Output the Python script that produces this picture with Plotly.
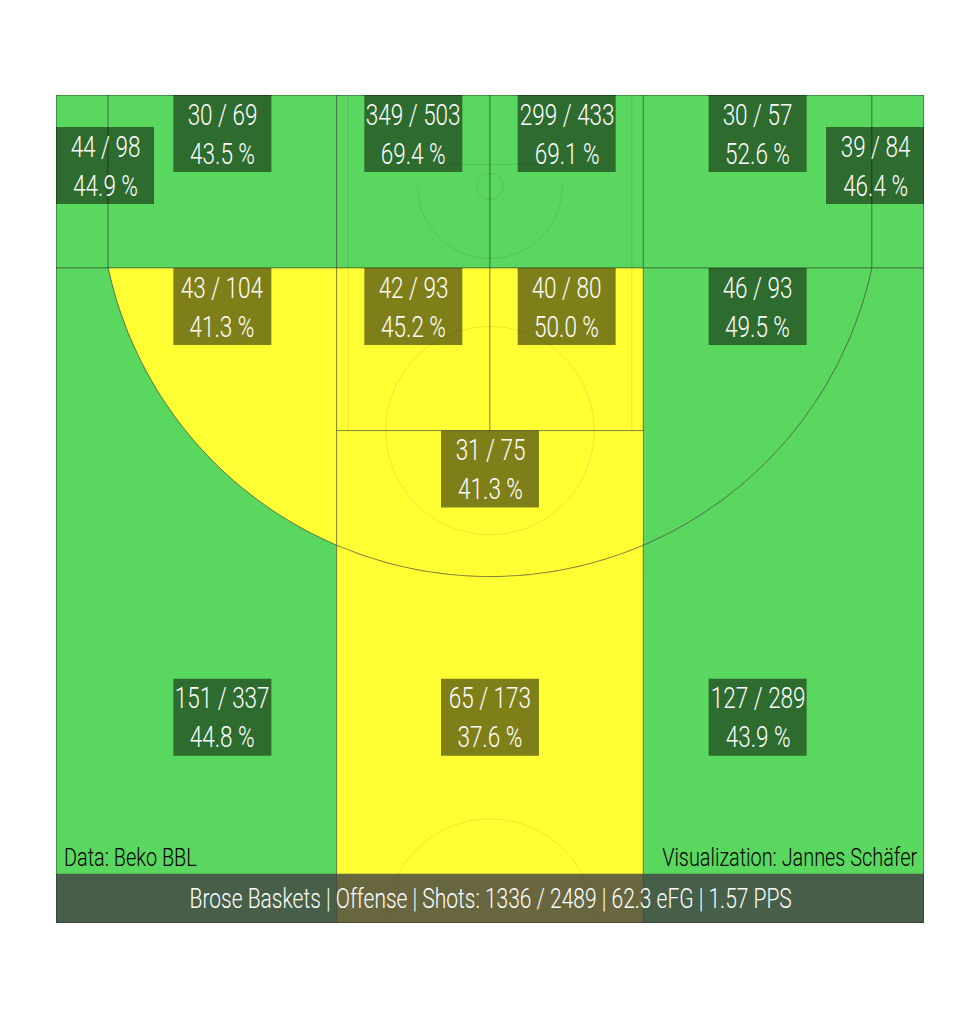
import numpy as np
import plotly.graph_objects as go

# shot zones, ordered baseline -> half court, left -> right
ZONES = [
    "Left Corner 3", "Left Baseline 2", "Paint Left", "Paint Right", "Right Baseline 2", "Right Corner 3",
    "Left Wing 2", "Lane Left", "Lane Right", "Right Wing 2", "Top Key 2",
    "Left Wing 3", "Top 3", "Right Wing 3",
]
MADE = [44, 30, 349, 299, 30, 39, 43, 42, 40, 46, 31, 151, 65, 127]
ATTEMPTS = [98, 69, 503, 433, 57, 84, 104, 93, 80, 93, 75, 337, 173, 289]
# above / below league average
RATING = [
    "above", "above", "above", "above", "above", "above",
    "below", "below", "below", "above", "below",
    "above", "below", "above",
]

TEAM = "Brose Baskets"
SIDE = "Offense"
TOTAL_MADE = 1336
TOTAL_ATTEMPTS = 2489
EFG = 62.3
PPS = 1.57

SOURCE = "Data: Beko BBL"
CREDIT = "Visualization: Jannes Schäfer"

RATING_COLORS = {"above": "#5AD75E", "below": "#FFFF33"}
FONT = "Roboto, sans-serif"
ZONE_LINE = "rgba(40,40,40,0.55)"
MARK_LINE = "rgba(0,0,0,0.09)"
# no condensed face is installed, so the text is squeezed horizontally
CONDENSE = 0.75
BOX_W = 98
BOX_H = 77

# court geometry in metres (FIBA), y measured from the baseline
HALF_W = 7.5
COURT_L = 14.31
BASKET_Y = 1.575
THREE_R = 6.75
CORNER_X = 6.6
CORNER_Y = BASKET_Y + np.sqrt(THREE_R**2 - CORNER_X**2)
LANE_X = 2.65
PAINT_X = 2.45
FT_Y = 5.8
BAR_TOP = 13.46


def arc_pts(x0, x1, n=80):
    xs = np.linspace(x0, x1, n)
    return list(xs), list(BASKET_Y + np.sqrt(THREE_R**2 - xs**2))


def rect(x0, x1, y0, y1):
    return [x0, x1, x1, x0], [y0, y0, y1, y1]


def wing2(sign):
    ax, ay = arc_pts(sign * LANE_X, sign * CORNER_X)
    return [sign * CORNER_X, sign * LANE_X] + ax, [CORNER_Y, CORNER_Y] + ay


def wing3(sign):
    ax, ay = arc_pts(sign * CORNER_X, sign * LANE_X)
    xs = [sign * HALF_W, sign * CORNER_X] + ax + [sign * LANE_X, sign * HALF_W]
    ys = [CORNER_Y, CORNER_Y] + ay + [COURT_L, COURT_L]
    return xs, ys


def top_key():
    ax, ay = arc_pts(LANE_X, -LANE_X)
    return [-LANE_X, LANE_X] + ax, [FT_Y, FT_Y] + ay


def top3():
    ax, ay = arc_pts(-LANE_X, LANE_X)
    return ax + [LANE_X, -LANE_X], ay + [COURT_L, COURT_L]


SHAPES = [
    rect(-HALF_W, -CORNER_X, 0, CORNER_Y),
    rect(-CORNER_X, -LANE_X, 0, CORNER_Y),
    rect(-LANE_X, 0, 0, CORNER_Y),
    rect(0, LANE_X, 0, CORNER_Y),
    rect(LANE_X, CORNER_X, 0, CORNER_Y),
    rect(CORNER_X, HALF_W, 0, CORNER_Y),
    wing2(-1),
    rect(-LANE_X, 0, CORNER_Y, FT_Y),
    rect(0, LANE_X, CORNER_Y, FT_Y),
    wing2(1),
    top_key(),
    wing3(-1),
    top3(),
    wing3(1),
]

# label box anchor: x, top y, side the box hangs from (-1 left edge, 0 centre, 1 right edge)
LABEL_POS = [
    (-HALF_W, 0.553, -1), (-4.625, 0, 0), (-1.325, 0, 0),
    (1.325, 0, 0), (4.625, 0, 0), (HALF_W, 0.553, 1),
    (-4.625, CORNER_Y, 0), (-1.325, CORNER_Y, 0),
    (1.325, CORNER_Y, 0), (4.625, CORNER_Y, 0), (0, FT_Y, 0),
    (-4.625, 10.09, 0), (0, 10.09, 0), (4.625, 10.09, 0),
]


def circle(cx, cy, r, a0=0, a1=2 * np.pi, n=120):
    t = np.linspace(a0, a1, n)
    return cx + r * np.cos(t), cy + r * np.sin(t)


fig = go.Figure()

for name, shape, rating in zip(ZONES, SHAPES, RATING):
    xs, ys = shape
    fig.add_trace(
        go.Scatter(
            x=xs + [xs[0]],
            y=ys + [ys[0]],
            mode="lines",
            fill="toself",
            fillcolor=RATING_COLORS[rating],
            line=dict(color=ZONE_LINE, width=0.8),
            name=name,
            hoverinfo="name",
        )
    )

# faint court markings
marks = [
    ([-PAINT_X, -PAINT_X], [0, FT_Y]),
    ([PAINT_X, PAINT_X], [0, FT_Y]),
    ([-0.9, 0.9], [1.2, 1.2]),
    circle(0, BASKET_Y, 0.225),
    circle(0, BASKET_Y, 1.25, 0, np.pi),
    circle(0, FT_Y, 1.8),
    circle(0, COURT_L, 1.8, np.pi, 2 * np.pi),
]
for mx, my in marks:
    fig.add_trace(
        go.Scatter(x=list(mx), y=list(my), mode="lines",
                   line=dict(color=MARK_LINE, width=1), hoverinfo="skip")
    )

for made, att, (lx, ly, side) in zip(MADE, ATTEMPTS, LABEL_POS):
    shift = -side * BOX_W / 2
    fig.add_shape(
        type="rect", layer="above",
        xsizemode="pixel", xanchor=lx, x0=shift - BOX_W / 2, x1=shift + BOX_W / 2,
        ysizemode="pixel", yanchor=ly, y0=0, y1=-BOX_H,
        fillcolor="rgba(0,0,0,0.5)", line_width=0,
    )
    fig.add_annotation(
        x=lx, y=ly, xanchor="center", yanchor="middle",
        xshift=shift, yshift=-BOX_H / 2,
        text=f"{made} / {att}<br>{100 * made / att:.1f} %",
        showarrow=False,
        font=dict(family=FONT, size=30, weight=300, color="white"),
    )

fig.add_shape(
    type="rect", x0=-HALF_W, x1=HALF_W, y0=BAR_TOP, y1=COURT_L,
    fillcolor="rgba(66,64,66,0.8)", line_width=0, layer="above",
)
fig.add_shape(
    type="rect", x0=-HALF_W, x1=HALF_W, y0=0, y1=COURT_L,
    line=dict(color="rgba(0,0,0,0.35)", width=1), layer="above",
)

fig.add_annotation(
    x=0, y=(BAR_TOP + COURT_L) / 2, showarrow=False,
    text=f"{TEAM} | {SIDE} | Shots: {TOTAL_MADE} / {TOTAL_ATTEMPTS} | {EFG} eFG | {PPS} PPS",
    font=dict(family=FONT, size=28, weight=300, color="white"),
)
fig.add_annotation(
    x=-HALF_W, y=BAR_TOP, xanchor="left", yanchor="bottom", xshift=6,
    text=SOURCE, showarrow=False,
    font=dict(family=FONT, size=26.5, weight=300, color="black"),
)
fig.add_annotation(
    x=HALF_W, y=BAR_TOP, xanchor="right", yanchor="bottom", xshift=-5,
    text=CREDIT, showarrow=False,
    font=dict(family=FONT, size=26.5, weight=300, color="black"),
)

fig.update_layout(
    width=961, height=1008,
    margin=dict(l=48, r=45, t=87, b=93),
    paper_bgcolor="white", plot_bgcolor="white",
    showlegend=False,
)
fig.update_xaxes(range=[-HALF_W, HALF_W], visible=False, fixedrange=True)
fig.update_yaxes(range=[COURT_L, 0], visible=False, fixedrange=True)

css = (
    ".annotation-text{transform-box:fill-box;transform-origin:center;"
    f"transform:scaleX({CONDENSE});}}"
    '.annotation[data-index="15"] .annotation-text{transform-origin:left center;}'
    '.annotation[data-index="16"] .annotation-text{transform-origin:right center;}'
)
post = (
    "var s = document.createElement('style');"
    f"s.textContent = '{css}';"
    "document.head.appendChild(s);"
)

fig.write_html("out.html", post_script=post)
